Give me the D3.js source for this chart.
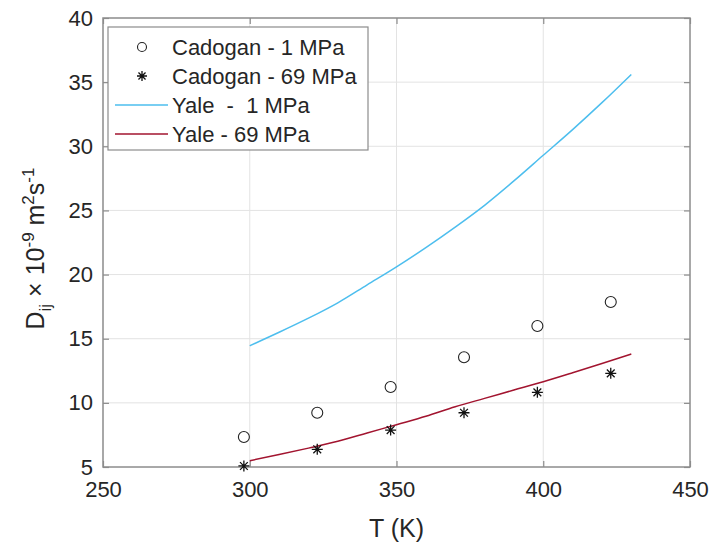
<!DOCTYPE html>
<html>
<head>
<meta charset="utf-8">
<script src="https://cdn.jsdelivr.net/npm/d3@7"></script>
<style>
  html, body { margin: 0; padding: 0; background: #fff; }
  svg { display: block; font-family: "Liberation Sans", Arial, sans-serif; }
</style>
</head>
<body>
<svg id="chart" width="714" height="545"></svg>
<script>
// Cadogan measurements (temperature in K, diffusivity in 1e-9 m^2/s)
const cadoganT = [298, 323, 348, 373, 398, 423];
const cadogan1 = [7.34, 9.23, 11.24, 13.55, 15.99, 17.86];
const cadogan69 = [5.08, 6.38, 7.88, 9.23, 10.82, 12.30];

// Yale model curves
const yaleT = [300, 310, 320, 330, 340, 350, 360, 370, 380, 390, 400, 410, 420, 430];
const yale1 = [14.45, 15.5, 16.6, 17.8, 19.2, 20.6, 22.1, 23.7, 25.4, 27.3, 29.3, 31.3, 33.4, 35.6];
const yale69 = [5.49, 5.97, 6.47, 7.0, 7.65, 8.3, 8.95, 9.7, 10.35, 11.0, 11.65, 12.35, 13.07, 13.81];

const xTicks = [250, 300, 350, 400, 450];
const yTicks = [5, 10, 15, 20, 25, 30, 35, 40];

const legendLabels = ["Cadogan - 1 MPa", "Cadogan - 69 MPa", "Yale  -  1 MPa", "Yale - 69 MPa"];

const colYale1 = "#4DBEEE";
const colYale69 = "#A2142F";

const svg = d3.select("#chart");
const m = { left: 103, right: 690, top: 18, bottom: 467 };

const x = d3.scaleLinear().domain([250, 450]).range([m.left, m.right]);
const y = d3.scaleLinear().domain([5, 40]).range([m.bottom, m.top]);

// grid
const grid = svg.append("g").attr("stroke", "#e3e3e3").attr("stroke-width", 1);
grid.selectAll("line.gx").data(xTicks.slice(1, -1)).join("line")
  .attr("x1", d => x(d)).attr("x2", d => x(d))
  .attr("y1", m.top).attr("y2", m.bottom);
grid.selectAll("line.gy").data(yTicks.slice(1, -1)).join("line")
  .attr("x1", m.left).attr("x2", m.right)
  .attr("y1", d => y(d)).attr("y2", d => y(d));

// axes (ticks drawn inward on all four sides)
const axisColor = "#8c8c8c";
const tickLen = 6;
const tickFont = "22px";
function styleAxis(g) {
  g.select(".domain").remove();
  g.selectAll(".tick line").attr("stroke", axisColor).attr("stroke-width", 1.2);
  g.selectAll(".tick text").attr("fill", "#262626").style("font-size", tickFont)
    .style("font-family", "'Liberation Sans', Arial, sans-serif");
}
svg.append("g").attr("transform", `translate(0,${m.bottom})`)
  .call(d3.axisBottom(x).tickValues(xTicks).tickSize(-tickLen).tickPadding(14).tickFormat(d3.format("d")))
  .call(styleAxis);
svg.append("g").attr("transform", `translate(0,${m.top})`)
  .call(d3.axisTop(x).tickValues(xTicks).tickSize(-tickLen).tickFormat(""))
  .call(styleAxis);
svg.append("g").attr("transform", `translate(${m.left},0)`)
  .call(d3.axisLeft(y).tickValues(yTicks).tickSize(-tickLen).tickPadding(10).tickFormat(d3.format("d")))
  .call(styleAxis);
svg.append("g").attr("transform", `translate(${m.right},0)`)
  .call(d3.axisRight(y).tickValues(yTicks).tickSize(-tickLen).tickFormat(""))
  .call(styleAxis);

svg.append("rect")
  .attr("x", m.left).attr("y", m.top)
  .attr("width", m.right - m.left).attr("height", m.bottom - m.top)
  .attr("fill", "none").attr("stroke", axisColor).attr("stroke-width", 1.5);

// curves
const line = d3.line().x(d => x(d[0])).y(d => y(d[1])).curve(d3.curveMonotoneX);
svg.append("path").datum(yaleT.map((t, i) => [t, yale1[i]]))
  .attr("d", line).attr("fill", "none").attr("stroke", colYale1).attr("stroke-width", 1.5);
svg.append("path").datum(yaleT.map((t, i) => [t, yale69[i]]))
  .attr("d", line).attr("fill", "none").attr("stroke", colYale69).attr("stroke-width", 1.5);

// markers
function asterisk(r) {
  const p = d3.path();
  const k = r * Math.SQRT1_2;
  p.moveTo(-r, 0); p.lineTo(r, 0);
  p.moveTo(0, -r); p.lineTo(0, r);
  p.moveTo(-k, -k); p.lineTo(k, k);
  p.moveTo(-k, k); p.lineTo(k, -k);
  return p.toString();
}
svg.append("g").selectAll("circle").data(cadoganT.map((t, i) => [t, cadogan1[i]])).join("circle")
  .attr("cx", d => x(d[0])).attr("cy", d => y(d[1])).attr("r", 5.5)
  .attr("fill", "none").attr("stroke", "#222").attr("stroke-width", 1.1);
svg.append("g").selectAll("path").data(cadoganT.map((t, i) => [t, cadogan69[i]])).join("path")
  .attr("transform", d => `translate(${x(d[0])},${y(d[1])})`)
  .attr("d", asterisk(5.5))
  .attr("fill", "none").attr("stroke", "#111").attr("stroke-width", 1.3);

// legend
const lg = svg.append("g");
lg.append("rect").attr("x", 108).attr("y", 27).attr("width", 260).attr("height", 123)
  .attr("fill", "#fff").attr("stroke", axisColor).attr("stroke-width", 1.2);
const rowY = [47, 76, 105, 134];
lg.append("circle").attr("cx", 142).attr("cy", rowY[0]).attr("r", 4.5)
  .attr("fill", "none").attr("stroke", "#222").attr("stroke-width", 1.1);
lg.append("path").attr("transform", `translate(142,${rowY[1]})`).attr("d", asterisk(5))
  .attr("fill", "none").attr("stroke", "#111").attr("stroke-width", 1.3);
lg.append("line").attr("x1", 115).attr("x2", 168).attr("y1", rowY[2]).attr("y2", rowY[2])
  .attr("stroke", colYale1).attr("stroke-width", 1.5);
lg.append("line").attr("x1", 115).attr("x2", 168).attr("y1", rowY[3]).attr("y2", rowY[3])
  .attr("stroke", colYale69).attr("stroke-width", 1.5);
lg.selectAll("text").data(legendLabels).join("text")
  .attr("x", 172).attr("y", (d, i) => rowY[i]).attr("dy", "0.36em")
  .attr("fill", "#262626").style("font-size", "22px").style("white-space", "pre")
  .attr("xml:space", "preserve")
  .text(d => d);

// axis titles
svg.append("text").attr("x", (m.left + m.right) / 2).attr("y", 537)
  .attr("text-anchor", "middle").attr("fill", "#262626").style("font-size", "25px")
  .text("T (K)");

const yl = svg.append("text")
  .attr("transform", `translate(44,${(m.top + m.bottom) / 2 + 6}) rotate(-90)`)
  .attr("text-anchor", "middle").attr("fill", "#262626").style("font-size", "25px");
yl.append("tspan").text("D");
yl.append("tspan").attr("dy", 7).style("font-size", "17px").text("ij");
yl.append("tspan").attr("dy", -7).text(" \u00D7 10");
yl.append("tspan").attr("dy", -10).style("font-size", "17px").text("-9");
yl.append("tspan").attr("dy", 10).text(" m");
yl.append("tspan").attr("dy", -10).style("font-size", "17px").text("2");
yl.append("tspan").attr("dy", 10).text("s");
yl.append("tspan").attr("dy", -10).style("font-size", "17px").text("-1");
</script>
</body>
</html>
